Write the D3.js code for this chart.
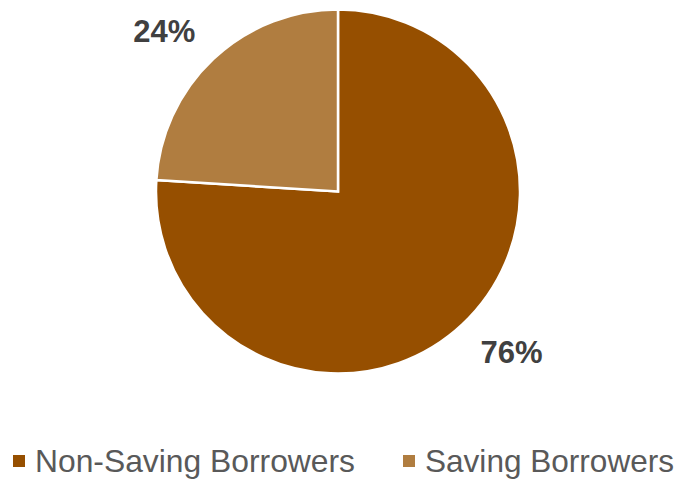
<!DOCTYPE html>
<html>
<head>
<meta charset="utf-8">
<script src="https://cdn.jsdelivr.net/npm/d3@7"></script>
<style>
  html, body { margin: 0; padding: 0; background: #ffffff; }
  svg { display: block; }
</style>
</head>
<body>
<svg id="chart" width="679" height="480"></svg>
<script>
// Share of borrowers by saving status
const categories = ["Non-Saving Borrowers", "Saving Borrowers"];
const values = [76, 24];
const valueLabels = ["76%", "24%"];
const colors = ["#964F00", "#B07D40"];

const svg = d3.select("#chart");
const cx = 338, cy = 191.5, radius = 182;

const data = categories.map((c, i) => ({ name: c, value: values[i], label: valueLabels[i] }));

const pie = d3.pie().value(d => d.value).sort(null);
const arcs = pie(data);
const arc = d3.arc().innerRadius(0).outerRadius(radius);

const color = d3.scaleOrdinal().domain(categories).range(colors);

const g = svg.append("g").attr("transform", `translate(${cx},${cy})`);

g.selectAll("path.slice")
  .data(arcs)
  .join("path")
  .attr("class", "slice")
  .attr("d", arc)
  .attr("fill", d => color(d.data.name))
  .attr("stroke", "#ffffff")
  .attr("stroke-width", 2.5)
  .attr("stroke-linejoin", "miter");

// Percentage labels placed outside the pie, near each slice's bisector
const labelRadius = radius * 1.3;
const labelTurn = -0.07;
g.selectAll("text.pct")
  .data(arcs)
  .join("text")
  .attr("class", "pct")
  .attr("transform", d => {
    const a = (d.startAngle + d.endAngle) / 2 + labelTurn;
    return `translate(${Math.sin(a) * labelRadius},${-Math.cos(a) * labelRadius})`;
  })
  .attr("text-anchor", "middle")
  .attr("dy", "0.36em")
  .attr("font-family", "Liberation Sans, Arial, sans-serif")
  .attr("font-weight", "bold")
  .attr("font-size", 31)
  .attr("fill", "#404040")
  .text(d => d.data.label);

// Legend
const legendX = [13, 403];
const legend = svg.append("g").attr("class", "legend");
const items = legend.selectAll("g.item")
  .data(categories)
  .join("g")
  .attr("class", "item")
  .attr("transform", (d, i) => `translate(${legendX[i]},455)`);

items.append("rect")
  .attr("width", 12)
  .attr("height", 12)
  .attr("fill", d => color(d));

items.append("text")
  .attr("x", 22)
  .attr("y", 17)
  .attr("font-family", "Liberation Sans, Arial, sans-serif")
  .attr("font-size", 32)
  .attr("fill", "#595959")
  .attr("textLength", (d, i) => i === 0 ? 320 : 249)
  .attr("lengthAdjust", "spacingAndGlyphs")
  .text(d => d);
</script>
</body>
</html>
